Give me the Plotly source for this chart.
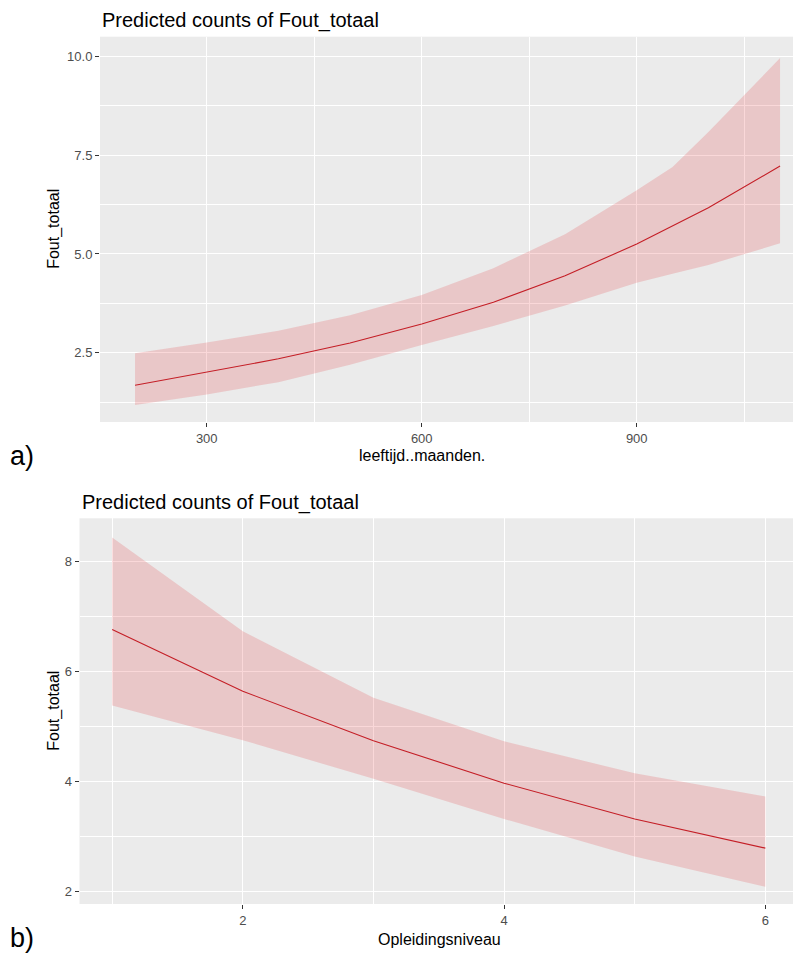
import plotly.graph_objects as go

# ---- data ----
age_months = [200, 300, 400, 500, 600, 700, 800, 900, 950, 1000, 1100]
age_pred = [1.68, 2.02, 2.35, 2.75, 3.23, 3.78, 4.45, 5.25, 5.70, 6.17, 7.22]
age_upper = [2.49, 2.76, 3.06, 3.45, 3.96, 4.64, 5.50, 6.61, 7.20, 8.08, 9.95]
age_lower = [1.18, 1.45, 1.76, 2.20, 2.70, 3.18, 3.70, 4.27, 4.50, 4.72, 5.27]

edu_level = [1, 2, 3, 4, 5, 6]
edu_pred = [6.76, 5.64, 4.74, 3.97, 3.32, 2.79]
edu_upper = [8.43, 6.73, 5.52, 4.73, 4.15, 3.73]
edu_lower = [5.38, 4.75, 4.05, 3.32, 2.64, 2.09]

top_xticks = [300, 600, 900]
top_yticks = [2.5, 5.0, 7.5, 10.0]
top_yticktext = ["2.5", "5.0", "7.5", "10.0"]
bot_xticks = [2, 4, 6]
bot_yticks = [2, 4, 6, 8]

title_text = "Predicted counts of Fout_totaal"
ytitle = "Fout_totaal"
xtitle_top = "leeftijd..maanden."
xtitle_bot = "Opleidingsniveau"

FONT = "Arial, Liberation Sans, sans-serif"
RIBBON = "rgba(228,26,28,0.17)"
LINE = "#c41e26"

# the page body adds an 8px margin; compensate so window pixels match
OFF = 8
W, H = 801 - OFF, 958 - OFF

fig = go.Figure()

# top panel
fig.add_trace(go.Scatter(x=age_months, y=age_lower, mode="lines", line=dict(width=0),
                         showlegend=False, hoverinfo="skip", xaxis="x", yaxis="y"))
fig.add_trace(go.Scatter(x=age_months, y=age_upper, mode="lines", line=dict(width=0),
                         fill="tonexty", fillcolor=RIBBON, showlegend=False,
                         hoverinfo="skip", xaxis="x", yaxis="y"))
fig.add_trace(go.Scatter(x=age_months, y=age_pred, mode="lines", line=dict(color=LINE, width=1.1),
                         showlegend=False, xaxis="x", yaxis="y"))

# bottom panel
fig.add_trace(go.Scatter(x=edu_level, y=edu_lower, mode="lines", line=dict(width=0),
                         showlegend=False, hoverinfo="skip", xaxis="x2", yaxis="y2"))
fig.add_trace(go.Scatter(x=edu_level, y=edu_upper, mode="lines", line=dict(width=0),
                         fill="tonexty", fillcolor=RIBBON, showlegend=False,
                         hoverinfo="skip", xaxis="x2", yaxis="y2"))
fig.add_trace(go.Scatter(x=edu_level, y=edu_pred, mode="lines", line=dict(color=LINE, width=1.1),
                         showlegend=False, xaxis="x2", yaxis="y2"))


def px_x(p):
    return (p - OFF) / W


def px_y(p):
    return 1 - (p - OFF) / H


tickfont = dict(family=FONT, size=13, color="#4D4D4D")
common = dict(showgrid=True, gridcolor="white", gridwidth=1.3, zeroline=False,
              showline=False, ticks="outside", ticklen=4, tickwidth=1,
              tickcolor="#333333", tickfont=tickfont, fixedrange=True)

fig.update_layout(
    width=W, height=H,
    margin=dict(l=0, r=0, t=0, b=0),
    paper_bgcolor="white",
    plot_bgcolor="#EBEBEB",
    showlegend=False,
    xaxis=dict(domain=[px_x(100), 1.0], range=[151.1, 1129.2], anchor="y",
               tickmode="array", tickvals=top_xticks,
               minor=dict(tickvals=[450, 750, 1050], showgrid=True, gridcolor="white",
                          gridwidth=0.7, ticks=""),
               **common),
    yaxis=dict(domain=[px_y(422), px_y(36.7)], range=[0.753, 10.49], anchor="x",
               tickmode="array", tickvals=top_yticks, ticktext=top_yticktext,
               minor=dict(tickvals=[1.25, 3.75, 6.25, 8.75], showgrid=True, gridcolor="white",
                          gridwidth=0.7, ticks=""),
               **common),
    xaxis2=dict(domain=[px_x(79.5), px_x(798)], range=[0.75, 6.25], anchor="y2",
                tickmode="array", tickvals=bot_xticks,
                minor=dict(tickvals=[1, 3, 5], showgrid=True, gridcolor="white",
                           gridwidth=0.7, ticks=""),
                **common),
    yaxis2=dict(domain=[px_y(904), px_y(518.3)], range=[1.776, 8.78], anchor="x2",
                tickmode="array", tickvals=bot_yticks,
                minor=dict(tickvals=[3, 5, 7], showgrid=True, gridcolor="white",
                           gridwidth=0.7, ticks=""),
                **common),
)

ann = []
# titles
ann.append(dict(text=title_text, x=px_x(100), y=px_y(20.5), xref="paper", yref="paper",
                xanchor="left", yanchor="middle", showarrow=False,
                font=dict(family=FONT, size=20, color="black")))
ann.append(dict(text=title_text, x=px_x(80), y=px_y(503), xref="paper", yref="paper",
                xanchor="left", yanchor="middle", showarrow=False,
                font=dict(family=FONT, size=20, color="black")))
# y titles
for yc in (229.3, 711.2):
    ann.append(dict(text=ytitle, x=px_x(54.5), y=px_y(yc), xref="paper", yref="paper",
                    xanchor="center", yanchor="middle", textangle=-90, showarrow=False,
                    font=dict(family=FONT, size=16, color="black")))
# x titles
ann.append(dict(text=xtitle_top, x=600, xref="x", y=px_y(455), yref="paper",
                xanchor="center", yanchor="middle", showarrow=False,
                font=dict(family=FONT, size=16, color="black")))
ann.append(dict(text=xtitle_bot, x=px_x(439), y=px_y(939), xref="paper", yref="paper",
                xanchor="center", yanchor="middle", showarrow=False,
                font=dict(family=FONT, size=16, color="black")))
# panel labels
ann.append(dict(text="a)", x=px_x(8), y=px_y(456), xref="paper", yref="paper",
                xanchor="left", yanchor="middle", showarrow=False,
                font=dict(family=FONT, size=27, color="black")))
ann.append(dict(text="b)", x=px_x(8), y=px_y(938), xref="paper", yref="paper",
                xanchor="left", yanchor="middle", showarrow=False,
                font=dict(family=FONT, size=27, color="black")))

fig.update_layout(annotations=ann)

fig.write_html("out.html")
